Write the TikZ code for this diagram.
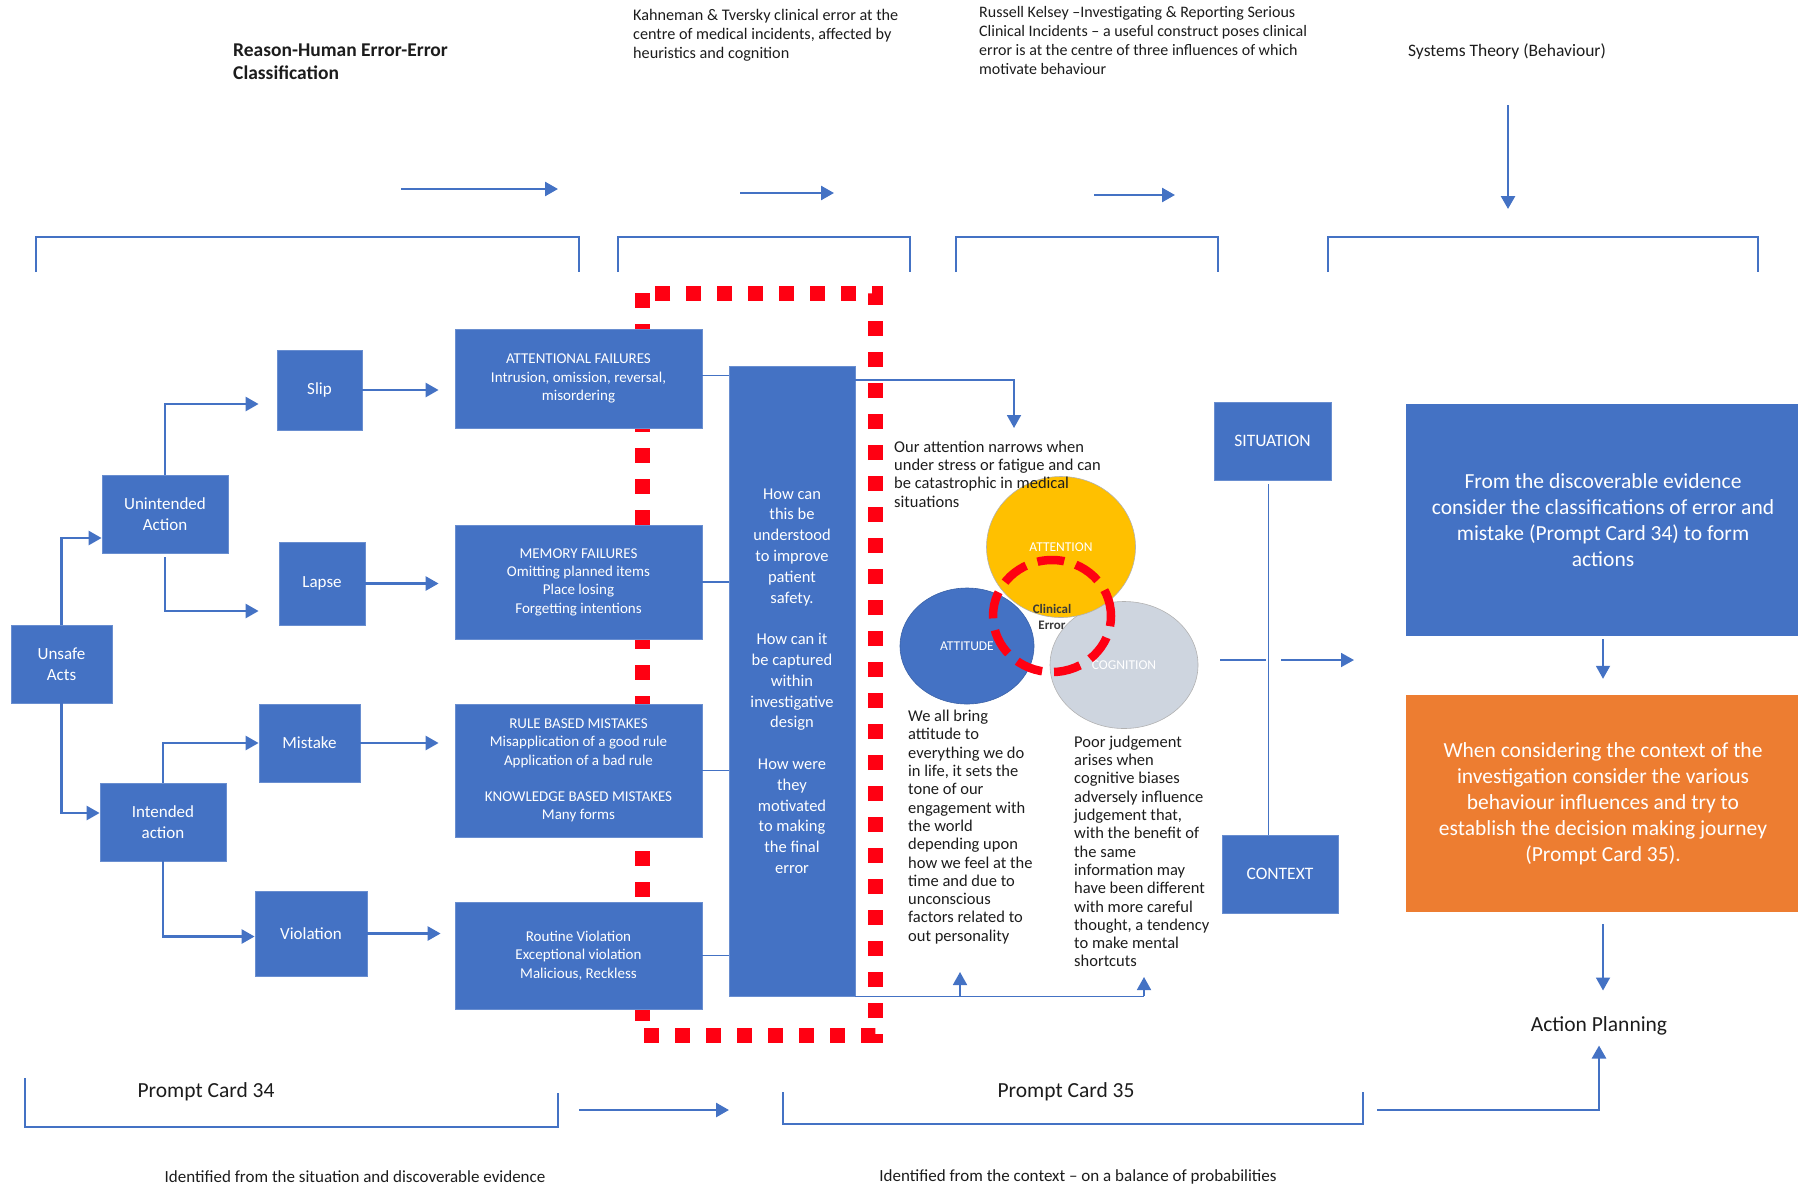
\documentclass[tikz,border=0pt]{standalone}
\usepackage{fontspec}
\setmainfont{Carlito}
\usetikzlibrary{arrows.meta, positioning, shapes.geometric}
\definecolor{boxblue}{RGB}{68,114,196}
\definecolor{cardorange}{RGB}{237,125,49}
\definecolor{attnyellow}{RGB}{255,192,0}
\definecolor{cogngrey}{RGB}{206,213,223}
\definecolor{errred}{RGB}{255,0,18}
\definecolor{inktext}{RGB}{28,28,28}

\begin{document}
\begin{tikzpicture}[
        x=1pt, y=-1pt,
        every node/.style={inner sep=0pt, align=center},
        box/.style={rectangle, fill=boxblue, draw=boxblue!80!white, line width=0.8pt,
          text=white, font=\fontsize{17}{21}\selectfont},
        failbox/.style={box, minimum width=247pt, font=\fontsize{15}{18.3}\selectfont},
        cardbox/.style={rectangle, minimum width=394pt, text=white,
          font=\fontsize{21.5}{26}\selectfont},
        note/.style={align=left, anchor=west, text=inktext, font=\fontsize{16.5}{18.3}\selectfont},
        label/.style={text=inktext, font=\fontsize{21.5}{24}\selectfont},
        blob/.style={ellipse, draw=gray!60, line width=0.6pt, text=white,
          font=\fontsize{13.5}{15}\selectfont},
        link/.style={draw=boxblue, line width=2.6pt},
        joinline/.style={draw=boxblue, line width=1.8pt},
        arr/.style={link, -{Triangle[length=13pt,width=14pt]}},
        bracket/.style={draw=boxblue, line width=2.4pt},
      ]
      \useasboundingbox (0,0) rectangle (1798,1192);

      % headings
      \node[note, font=\bfseries\fontsize{19.5}{23}\selectfont] (reason) at (233,61.5)
        {Reason-Human Error-Error\\Classification};
      \node[note, font=\fontsize{16.2}{19}\selectfont] (kahneman) at (633,35)
        {Kahneman \& Tversky clinical error at the\\centre of medical incidents, affected by\\heuristics and cognition};
      \node[note, font=\fontsize{16}{19}\selectfont] (kelsey) at (979,40)
        {Russell Kelsey –Investigating \& Reporting Serious\\Clinical Incidents – a useful construct poses clinical\\error is at the centre of three influences of which\\motivate behaviour};
      \node[note, anchor=center, font=\fontsize{17.5}{19}\selectfont] (systems) at (1507,52) {Systems Theory (Behaviour)};

      \coordinate (t1a) at (401,189);  \coordinate (t1b) at (558,189);
      \coordinate (t2a) at (740,193);  \coordinate (t2b) at (834,193);
      \coordinate (t3a) at (1094,195); \coordinate (t3b) at (1175,195);
      \coordinate (sysa) at (1508,105); \coordinate (sysb) at (1508,209);
      \draw[arr] (t1a) -- (t1b);
      \draw[arr] (t2a) -- (t2b);
      \draw[arr] (t3a) -- (t3b);
      \draw[arr] (sysa) -- (sysb);

      \draw[bracket] (36,272) -- (36,237) -- (579,237) -- (579,272);
      \draw[bracket] (618,272) -- (618,237) -- (910,237) -- (910,272);
      \draw[bracket] (956,272) -- (956,237) -- (1218,237) -- (1218,272);
      \draw[bracket] (1328,272) -- (1328,237) -- (1758,237) -- (1758,272);

      % red frame behind the failure boxes
      \draw[errred, line width=15pt, dash pattern=on 15pt off 16pt] (642,293) rectangle (875,1035);

      % error tree
      \node[box, minimum width=101pt, minimum height=78pt] (unsafe) at (61.5,664) {Unsafe\\Acts};
      \node[box, minimum width=126pt, minimum height=78pt] (unintended) at (165,514) {Unintended\\Action};
      \node[box, minimum width=126pt, minimum height=78pt] (intended) at (163,822) {Intended\\action};
      \node[box, minimum width=85pt, minimum height=80pt] (slip) at (319.5,390) {Slip};
      \node[box, minimum width=86pt, minimum height=83pt] (lapse) at (322,583.5) {Lapse};
      \node[box, minimum width=101pt, minimum height=78pt] (mistake) at (309.5,743) {Mistake};
      \node[box, minimum width=112pt, minimum height=85pt] (violation) at (311,933.5) {Violation};

      \node[failbox, minimum height=99pt] (attnfail) at (578.5,378.5)
        {ATTENTIONAL FAILURES\\Intrusion, omission, reversal,\\misordering};
      \node[failbox, minimum height=114pt] (memfail) at (578.5,582)
        {MEMORY FAILURES\\Omitting planned items\\Place losing\\Forgetting intentions};
      \node[failbox, minimum height=133pt] (rulefail) at (578.5,770.5)
        {RULE BASED MISTAKES\\Misapplication of a good rule\\Application of a bad rule\\[18.3pt]KNOWLEDGE BASED MISTAKES\\Many forms};
      \node[failbox, minimum height=107pt] (routine) at (578.5,955.5)
        {Routine Violation\\Exceptional violation\\Malicious, Reckless};

      \node[box, minimum width=126pt, minimum height=630pt, font=\fontsize{16.5}{20.8}\selectfont] (question) at (792,681)
        {How can\\this be\\understood\\to improve\\patient\\safety.\\[20.8pt]How can it\\be captured\\within\\investigative\\design\\[20.8pt]How were\\they\\motivated\\to making\\the final\\error};

      \draw[arr] (unsafe.north) |- ([yshift=-24pt]unintended.west);
      \draw[arr] (unsafe.south) |- ([yshift=9pt]intended.west);
      \draw[arr, shorten >=18pt] (unintended.north) |- ([yshift=-14pt]slip.west);
      \draw[arr, shorten <=4pt, shorten >=20pt] (unintended.south) |- ([yshift=-27.5pt]lapse.west);
      \draw[arr] (intended.north) |- (mistake.west);
      \draw[arr] (intended.south) |- ([yshift=-3pt]violation.west);
      \draw[arr, shorten >=16pt] (slip.east) -- (slip.east -| attnfail.west);
      \draw[arr, shorten >=16pt] (lapse.east) -- (lapse.east -| memfail.west);
      \draw[arr, shorten >=16pt] (mistake.east) -- (mistake.east -| rulefail.west);
      \draw[arr, shorten >=14pt] (violation.east) -- (violation.east -| routine.west);

      \draw[joinline] ([yshift=3pt]attnfail.east) -- ([yshift=3pt]attnfail.east -| question.west);
      \draw[joinline] (memfail.east) -- (memfail.east -| question.west);
      \draw[joinline] (rulefail.east) -- (rulefail.east -| question.west);
      \draw[joinline] (routine.east) -- (routine.east -| question.west);

      % three influences
      \node[blob, fill=boxblue, draw=boxblue!85!black, minimum width=134pt, minimum height=116pt] (attitude) at (967,646) {ATTITUDE};
      \node[blob, fill=cogngrey, minimum width=148pt, minimum height=127pt] (cognition) at (1124,665) {COGNITION};
      \node[blob, fill=attnyellow, minimum width=149pt, minimum height=141pt] (attention) at (1061,547) {ATTENTION};
      \node[ellipse, draw=errred, line width=8.5pt, dash pattern=on 27pt off 12pt,
        minimum width=118pt, minimum height=112pt] (errring) at (1052,616) {};
      \node[text=gray!45!black, font=\bfseries\fontsize{13}{16}\selectfont] (clinical) at (1052,617) {Clinical\\Error};

      \node[note] (narrow) at (894,474)
        {Our attention narrows when\\under stress or fatigue and can\\be catastrophic in medical\\situations};
      \node[note] (bring) at (908,827)
        {We all bring\\attitude to\\everything we do\\in life, it sets the\\tone of our\\engagement with\\the world\\depending upon\\how we feel at the\\time and due to\\unconscious\\factors related to\\out personality};
      \node[note] (poor) at (1074,851.5)
        {Poor judgement\\arises when\\cognitive biases\\adversely influence\\judgement that,\\with the benefit of\\the same\\information may\\have been different\\with more careful\\thought, a tendency\\to make mental\\shortcuts};

      \coordinate (attnin) at (1014,428);
      \coordinate (attup) at (960,972);
      \coordinate (cogup) at (1144,977);
      \draw[arr, line width=1.8pt] ([yshift=-14pt]question.north east) -| (attnin);
      \draw[joinline] (question.south east) -- (question.south east -| cogup);
      \draw[arr, line width=1.8pt] (question.south east -| attup) -- (attup);
      \draw[arr, line width=1.8pt] (question.south east -| cogup) -- (cogup);

      % situation and context
      \node[box, minimum width=117pt, minimum height=78pt, font=\fontsize{17.5}{20}\selectfont] (situation) at (1272.5,441) {SITUATION};
      \node[box, minimum width=116pt, minimum height=78pt, font=\fontsize{17.5}{20}\selectfont] (context) at (1280,874) {CONTEXT};
      \draw[joinline, shorten <=4pt] ([xshift=-4pt]situation.south) -- ([xshift=-4pt]situation.south |- context.north);
      \coordinate (hubin) at (1220,660);
      \coordinate (hub) at (1268,660);
      \coordinate (hubout) at (1354,660);
      \draw[joinline] (hubin) -- ([xshift=-2pt]hub);
      \draw[arr, line width=1.8pt] ([xshift=13pt]hub) -- (hubout);

      % prompt cards
      \node[cardbox, fill=boxblue, minimum height=232pt] (evidence) at (1603,520)
        {From the discoverable evidence\\consider the classifications of error and\\mistake (Prompt Card 34) to form\\actions};
      \node[cardbox, fill=cardorange, minimum height=217pt] (journey) at (1603,803.5)
        {When considering the context of the\\investigation consider the various\\behaviour influences and try to\\establish the decision making journey\\(Prompt Card 35).};
      \node[label] (planning) at (1599,1026) {Action Planning};
      \draw[arr, line width=1.8pt, shorten <=3pt, shorten >=16pt] (evidence.south) -- (journey.south |- journey.north);
      \draw[arr, line width=1.8pt, shorten <=12pt, shorten >=26pt] (journey.south) -- (journey.south |- planning.north);

      \draw[bracket] (25,1078) -- (25,1127) -- (558,1127) -- (558,1093);
      \draw[bracket] (783,1092) -- (783,1124) -- (1363,1124) -- (1363,1092);
      \node[label] (card34) at (206,1092) {Prompt Card 34};
      \node[label] (card35) at (1066,1092) {Prompt Card 35};
      \coordinate (c34out) at (579,1110);
      \coordinate (c35in) at (729,1110);
      \coordinate (c35out) at (1377,1110);
      \draw[arr] (c34out) -- (c35in);
      \draw[arr, shorten >=10pt] (c35out) -| (planning.south);

      \node[note, anchor=center, font=\fontsize{17}{19}\selectfont] (fromsituation) at (355,1177) {Identified from the situation and discoverable evidence};
      \node[note, anchor=center, font=\fontsize{17}{19}\selectfont] (fromcontext) at (1078,1177) {Identified from the context – on a balance of probabilities};
\end{tikzpicture}
\end{document}
